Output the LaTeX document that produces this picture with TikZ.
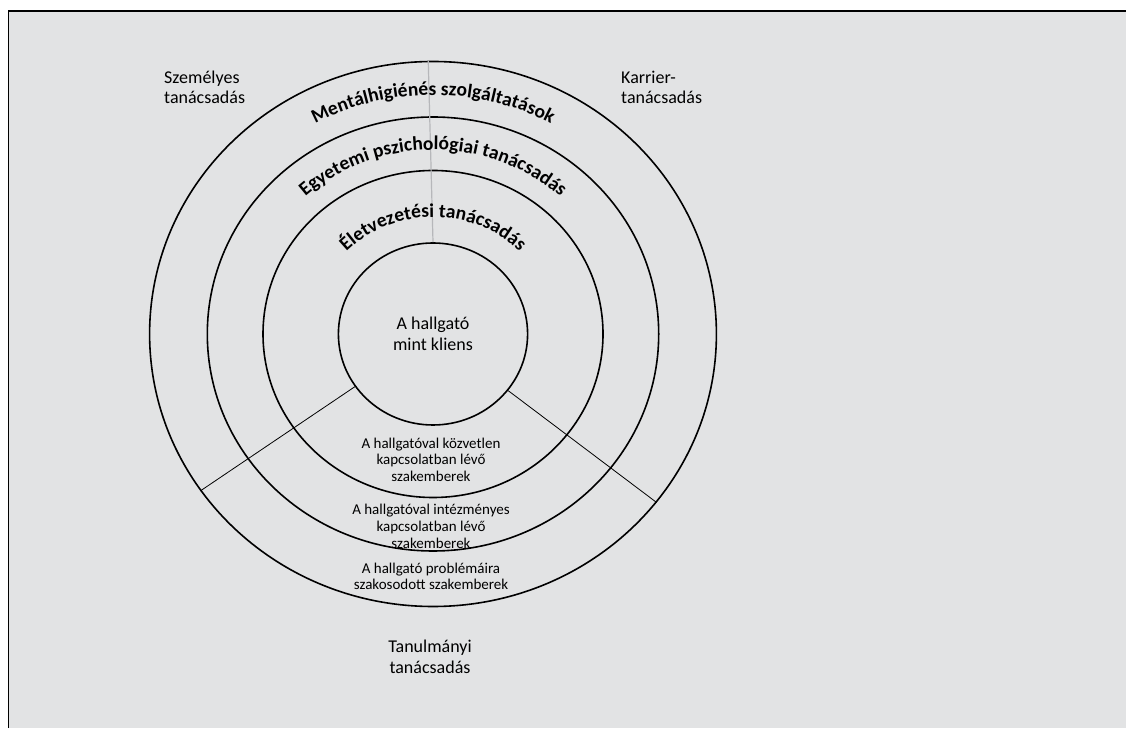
\documentclass[tikz,border=0pt]{standalone}
\usepackage{fontspec}
\setmainfont{Carlito}
\usetikzlibrary{shapes.geometric, decorations.text}
\definecolor{bggray}{RGB}{226,227,228}
\definecolor{linegray}{RGB}{182,183,186}

\begin{document}
\begin{tikzpicture}[x=1pt, y=1pt,
    ring/.style={draw, ellipse, line width=1.6pt, inner sep=0pt},
    spoke/.style={line width=0.8pt},
    label/.style={font=\fontsize{18}{20.6}\selectfont, align=left, inner sep=0pt},
    group/.style={font=\fontsize{15}{16.7}\selectfont, align=center, inner sep=0pt},
    ringtext/.style={decorate, decoration={text along path, text align=center, text format delimiters={|}{|}}}]
  \useasboundingbox (0,0) rectangle (1126,728);
  \fill[bggray] (8.5,0) rectangle (1126,717);
  \draw[line width=1.5pt] (8.5,0) |- (1126,717);

  \node[ring, minimum width=566.8pt, minimum height=545pt] (ring3) at (433,394) {};
  \node[ring, minimum width=451.4pt, minimum height=434pt] (ring2) at (433,394) {};
  \node[ring, minimum width=340pt, minimum height=327pt] (ring1) at (433,394) {};
  \node[ring, minimum width=189.2pt, minimum height=182pt, align=center,
        font=\fontsize{18}{20.6}\selectfont] (client) at (433,394) {A hallgató\\mint kliens};

  \draw[linegray, line width=1.2pt] (ring3.91.5) -- (client.north);
  \draw[spoke] (client.214.5) -- (ring3.214.5);
  \draw[spoke] (client.323.5) -- (ring3.323.5);

  \path[ringtext, decoration={text={|\fontsize{19.5}{22}\selectfont\bfseries|Mentálhigiénés szolgáltatások}}]
    (184.4,394) arc[start angle=180, end angle=0, x radius=248.6, y radius=239];
  \path[ringtext, decoration={text={|\fontsize{19.5}{22}\selectfont\bfseries|Egyetemi pszichológiai tanácsadás}}]
    (241.6,394) arc[start angle=180, end angle=0, x radius=191.4, y radius=184];
  \path[ringtext, decoration={text={|\fontsize{19.5}{22}\selectfont\bfseries|Életvezetési tanácsadás}}]
    (311.3,394) arc[start angle=180, end angle=0, x radius=121.7, y radius=117];

  % base anchor sits on the last line
  \node[label, anchor=base west] (szemelyes) at (164,624) {Személyes\\tanácsadás};
  \node[label, anchor=base west] (karrier) at (621,624) {Karrier-\\tanácsadás};
  \node[label, align=center, anchor=base] (tanulmanyi) at (430,54.7) {Tanulmányi\\tanácsadás};

  \node[group, anchor=base] (kozvetlen) at (431,246.3) {A hallgatóval közvetlen\\kapcsolatban lévő\\szakemberek};
  \node[group, anchor=base] (intezmenyes) at (431,179.7) {A hallgatóval intézményes\\kapcsolatban lévő\\szakemberek};
  \node[group, anchor=base] (szakosodott) at (431,138) {A hallgató problémáira\\szakosodott szakemberek};
\end{tikzpicture}
\end{document}
